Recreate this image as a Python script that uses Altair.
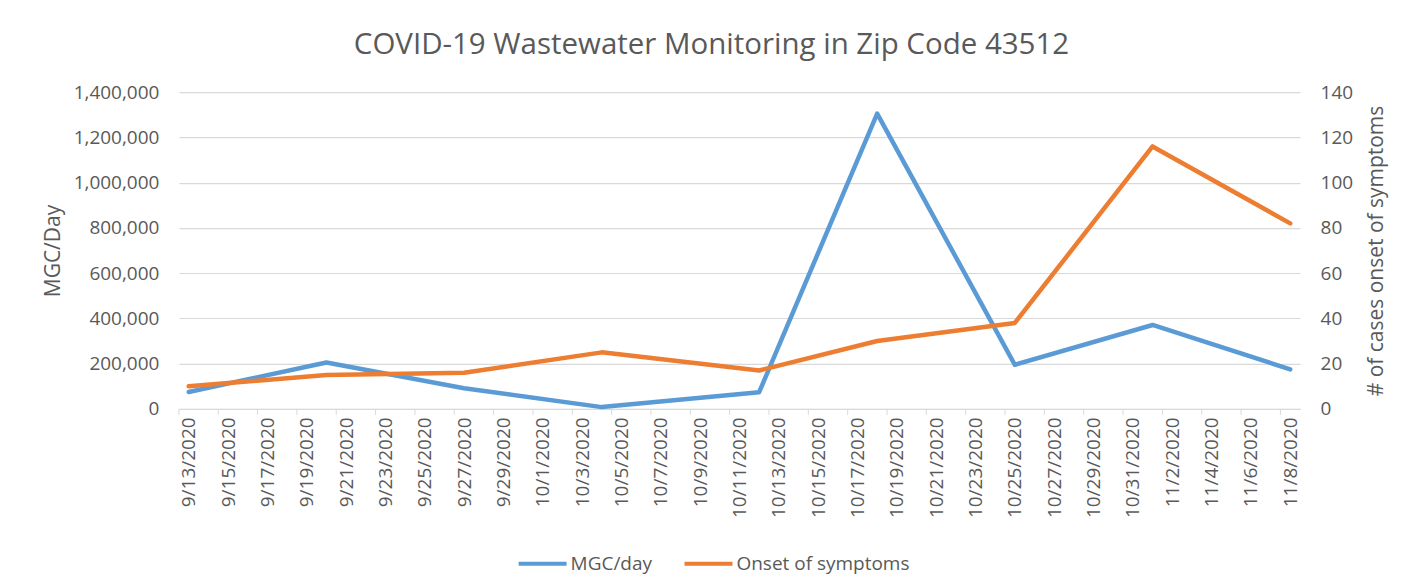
import altair as alt
import pandas as pd

# ---- data ----
dates = ["2020-09-13", "2020-09-20", "2020-09-27", "2020-10-04", "2020-10-12",
         "2020-10-18", "2020-10-25", "2020-11-01", "2020-11-08"]
mgc_per_day = [75000, 205000, 91000, 8000, 74000, 1305000, 195000, 371000, 175000]
onset_cases = [10, 15, 16, 25, 17, 30, 38, 116, 82]

tick_labels = ["9/13/2020", "9/15/2020", "9/17/2020", "9/19/2020", "9/21/2020",
               "9/23/2020", "9/25/2020", "9/27/2020", "9/29/2020", "10/1/2020",
               "10/3/2020", "10/5/2020", "10/7/2020", "10/9/2020", "10/11/2020",
               "10/13/2020", "10/15/2020", "10/17/2020", "10/19/2020", "10/21/2020",
               "10/23/2020", "10/25/2020", "10/27/2020", "10/29/2020", "10/31/2020",
               "11/2/2020", "11/4/2020", "11/6/2020", "11/8/2020"]
left_ticks = [0, 200000, 400000, 600000, 800000, 1000000, 1200000, 1400000]
right_ticks = [0, 20, 40, 60, 80, 100, 120, 140]

series_names = ["MGC/day", "Onset of symptoms"]
series_colors = ["#5B9BD5", "#ED7D31"]

TEXT = "#595959"
GRID = "#D9D9D9"
FONT = "Open Sans"

# ---- derived tables ----
df = pd.DataFrame({"date": dates, "mgc": mgc_per_day, "onset": onset_cases})

label_ts = pd.to_datetime(tick_labels, format="%m/%d/%Y")
label_ms = [int(t.value // 10**6) for t in label_ts]
half_day = 12 * 3600 * 1000
# Excel date axis: tick marks sit on day-slot boundaries (half a day before each label)
tick_df = pd.DataFrame({"t": [m - half_day for m in label_ms]})
x_domain = [label_ms[0] - half_day, label_ms[-1] + half_day]

W, H = 1122, 317

xscale = alt.Scale(type="utc", domain=x_domain)
xaxis = alt.Axis(values=label_ms, labelExpr="utcFormat(datum.value, '%-m/%-d/%Y')",
                 labelAngle=270, labelFontSize=19, labelColor=TEXT, labelPadding=8,
                 ticks=False, grid=False, domain=True, domainColor=GRID,
                 domainWidth=1, title=None, labelOverlap=False)

color_scale = alt.Scale(domain=series_names, range=series_colors)
legend = alt.Legend(orient="none", legendX=338, legendY=446, direction="horizontal",
                    title=None, symbolType="stroke", symbolSize=2304,
                    symbolStrokeWidth=4, labelFontSize=19, labelColor=TEXT,
                    labelOffset=2, columnPadding=24, labelLimit=400)

ticks = alt.Chart(tick_df).mark_rule(color=GRID, strokeWidth=1).encode(
    x=alt.X("t:T", scale=xscale, axis=xaxis),
    y=alt.value(H),
    y2=alt.value(H + 6),
)

blue = alt.Chart(df).transform_calculate(series="'MGC/day'").mark_line(
    strokeWidth=4.5, strokeJoin="round", strokeCap="round").encode(
    x=alt.X("date:T", scale=xscale, axis=xaxis),
    y=alt.Y("mgc:Q", scale=alt.Scale(domain=[0, 1400000], nice=False),
            axis=alt.Axis(orient="left", values=left_ticks, format=",d",
                          title="MGC/Day", titleFontSize=21, titleFontWeight="normal",
                          titleColor=TEXT, titlePadding=10, labelFontSize=19,
                          labelColor=TEXT, labelPadding=20, ticks=False, domain=False,
                          grid=True, gridColor=GRID, gridWidth=1.2)),
    color=alt.Color("series:N", scale=color_scale, legend=legend),
)

orange = alt.Chart(df).transform_calculate(series="'Onset of symptoms'").mark_line(
    strokeWidth=4.5, strokeJoin="round", strokeCap="round").encode(
    x=alt.X("date:T", scale=xscale, axis=xaxis),
    y=alt.Y("onset:Q", scale=alt.Scale(domain=[0, 140], nice=False),
            axis=alt.Axis(orient="right", values=right_ticks, format="d",
                          title="# of cases onset of symptoms", titleAngle=270,
                          titleFontSize=21, titleFontWeight="normal", titleColor=TEXT,
                          titlePadding=34, labelFontSize=19, labelColor=TEXT,
                          labelPadding=20, ticks=False, domain=False, grid=False)),
    color=alt.Color("series:N", scale=color_scale, legend=legend),
)

chart = alt.layer(ticks, blue, orange).resolve_scale(y="independent").properties(
    width=W, height=H,
    title=alt.TitleParams("COVID-19 Wastewater Monitoring in Zip Code 43512",
                          fontSize=29.5, fontWeight="normal", color=TEXT, font=FONT,
                          offset=23, anchor="middle", dx=-28),
    padding={"left": 171, "top": 84, "right": 110, "bottom": 168},
    autosize=alt.AutoSizeParams(type="none"),
    background="white",
).configure(font=FONT).configure_view(stroke=None)

chart.save("out.html", embed_options={"renderer": "svg", "actions": False})
